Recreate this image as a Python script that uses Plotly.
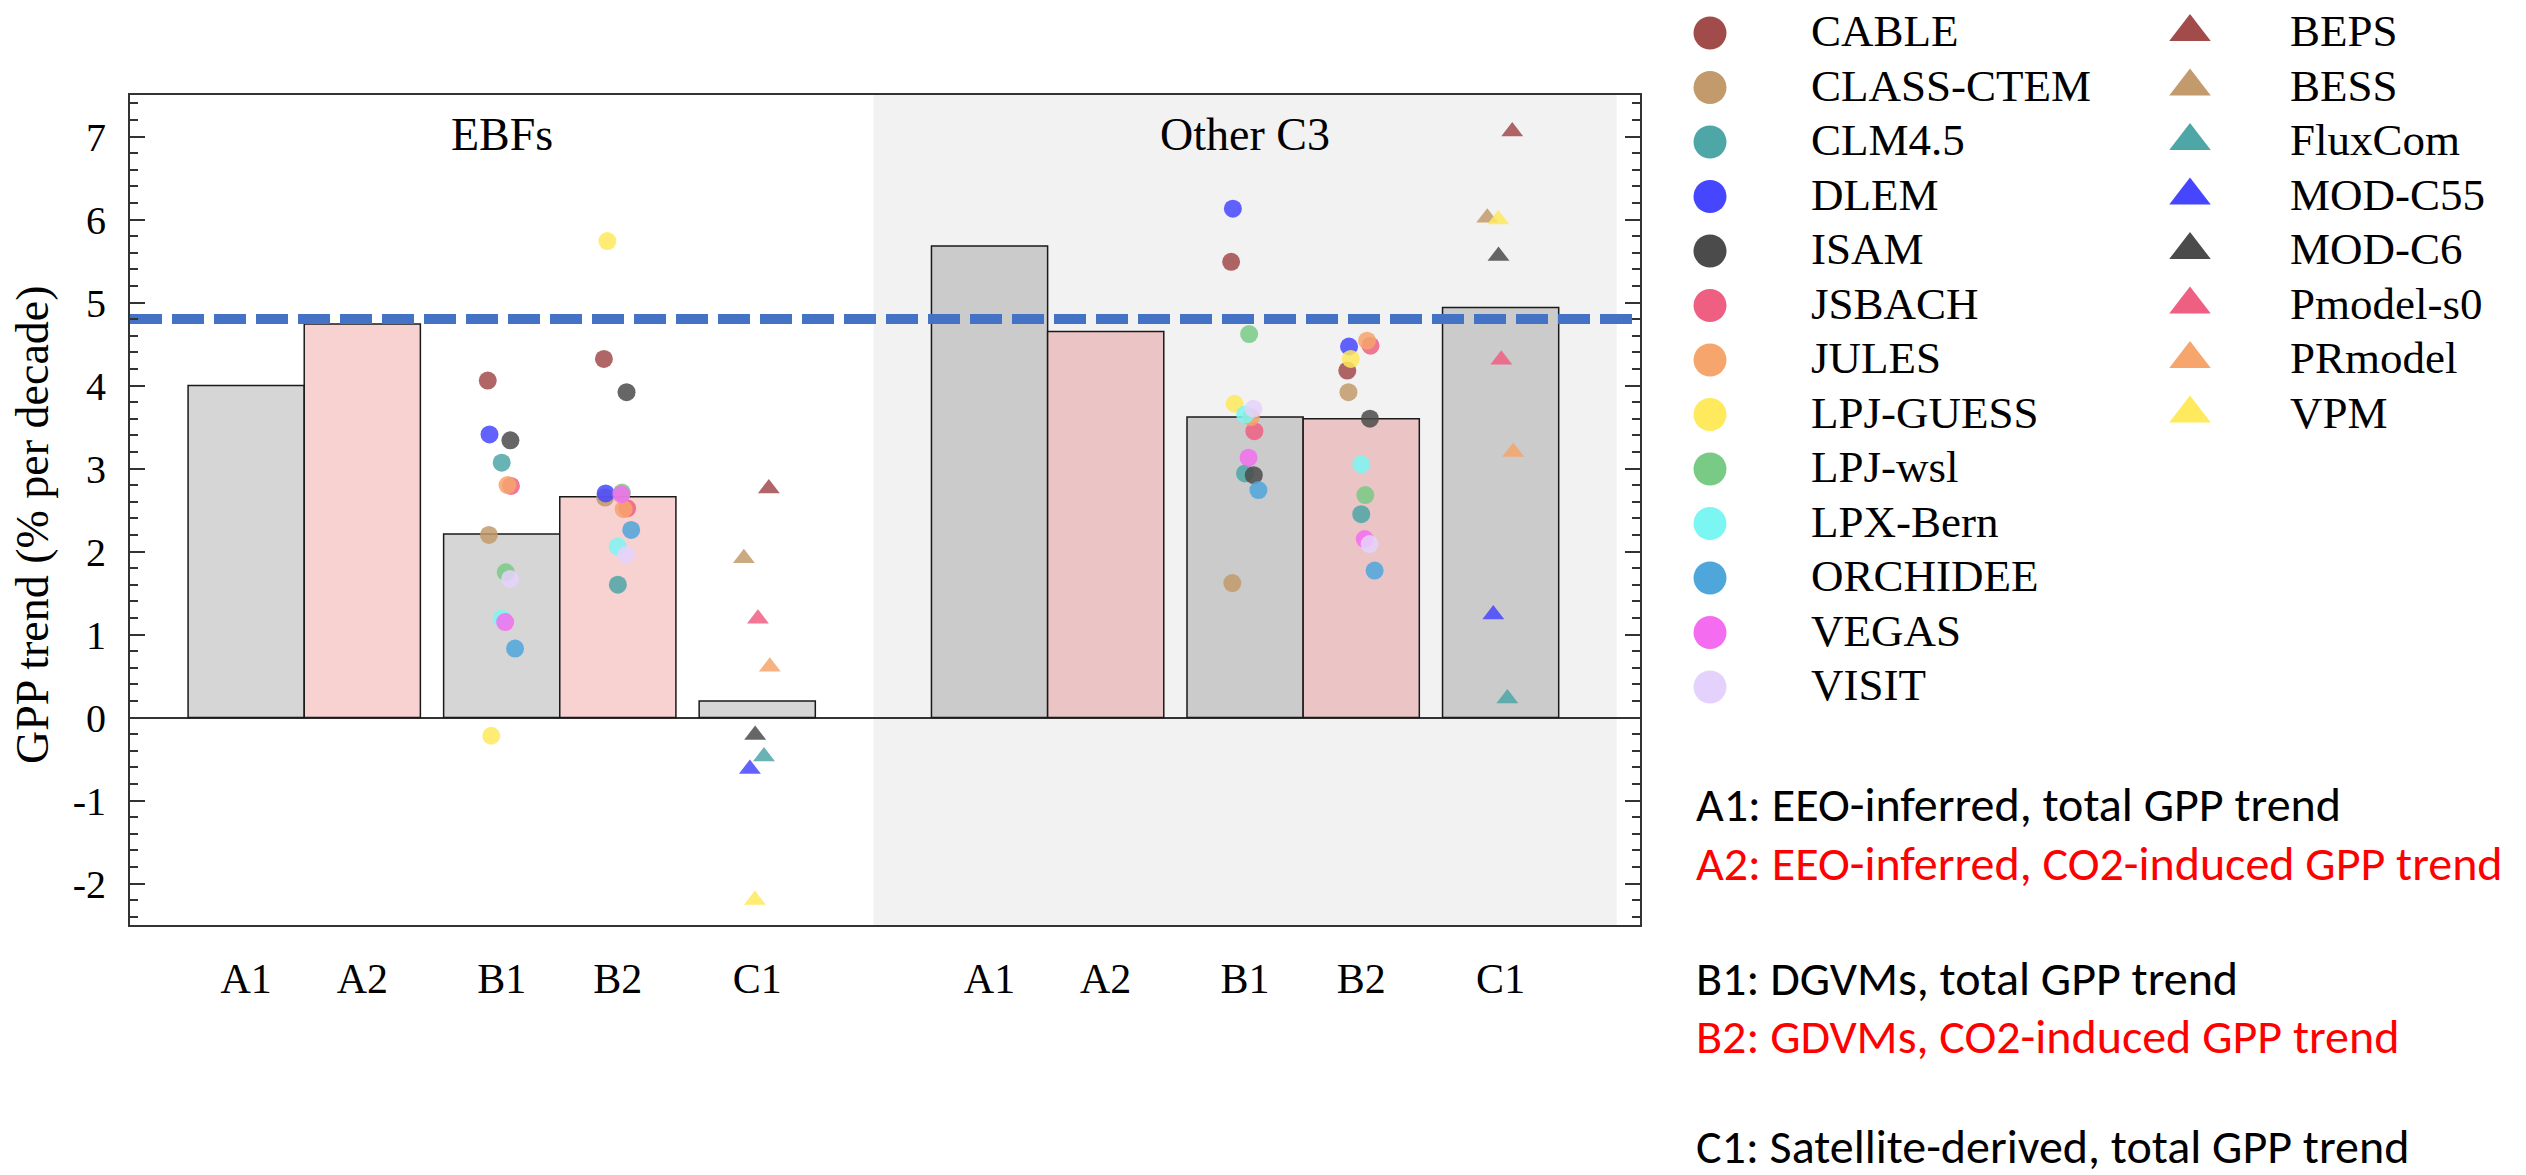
import plotly.graph_objects as go

W, H = 2526, 1175

# ------------------------------------------------------------------ data
categories = ["A1", "A2", "B1", "B2", "C1"]
biomes = ["EBFs", "Other C3"]
bar_ebf = [4.00, 4.74, 2.21, 2.66, 0.20]
bar_c3 = [5.68, 4.65, 3.62, 3.60, 4.94]
eeo_reference = 4.80

dgvm_models = ["CABLE", "CLASS-CTEM", "CLM4.5", "DLEM", "ISAM", "JSBACH", "JULES",
               "LPJ-GUESS", "LPJ-wsl", "LPX-Bern", "ORCHIDEE", "VEGAS", "VISIT"]
dgvm_b1_ebf = [4.06, 2.20, 3.07, 3.41, 3.34, 2.79, 2.80, -0.22, 1.75, 1.19, 0.83, 1.15, 1.67]
dgvm_b2_ebf = [4.32, 2.65, 1.60, 2.70, 3.92, 2.52, 2.51, 5.74, 2.71, 2.06, 2.26, 2.69, 1.96]
dgvm_b1_c3 = [5.49, 1.62, 2.94, 6.13, 2.92, 3.45, 3.62, 3.78, 4.62, 3.65, 2.74, 3.13, 3.72]
dgvm_b2_c3 = [4.18, 3.92, 2.45, 4.47, 3.60, 4.48, 4.54, 4.32, 2.68, 3.05, 1.77, 2.15, 2.09]

sat_models = ["BEPS", "BESS", "FluxCom", "MOD-C55", "MOD-C6", "Pmodel-s0", "PRmodel", "VPM"]
sat_c1_ebf = [2.76, 1.92, -0.47, -0.62, -0.21, 1.19, 0.61, -2.20]
sat_c1_c3 = [7.06, 6.02, 0.23, 1.24, 5.56, 4.31, 3.20, 6.00]

ytick_vals = [-2, -1, 0, 1, 2, 3, 4, 5, 6, 7]
ytick_text = ["-2", "-1", "0", "1", "2", "3", "4", "5", "6", "7"]

notes = [
    ("A1: EEO-inferred, total GPP trend", "black"),
    ("A2: EEO-inferred, CO2-induced GPP trend", "#FF0000"),
    ("B1: DGVMs, total GPP trend", "black"),
    ("B2: GDVMs, CO2-induced GPP trend", "#FF0000"),
    ("C1: Satellite-derived, total GPP trend", "black"),
]

# ------------------------------------------------------------------ layout / style
cat_pos = [1.0, 2.0, 3.2, 4.2, 5.4]
group_shift = 6.4
x_range = [0, 13.0]
y_range = [-2.5, 7.5]
shade = (6.4, 12.8)

dgvm_jitter = [-0.12, -0.11, 0.0, -0.105, 0.075, 0.08, 0.05, -0.09, 0.035, 0.0, 0.115, 0.03, 0.072]
sat_jitter = [0.10, -0.115, 0.058, -0.063, -0.018, 0.006, 0.108, -0.02]

palette = ["#A24B4B", "#C29A6B", "#4EA6A6", "#4646FF", "#4B4B4B", "#EE5F82", "#F6A56C",
           "#FFE95C", "#79CA84", "#7CF6F2", "#4EA6DA", "#F46DF0", "#E5D2FC"]
bar_colors_ebf = ["#D6D6D6", "#F8D1D1", "#D6D6D6", "#F8D1D1", "#D6D6D6"]
bar_colors_c3 = ["#CBCBCB", "#EBC4C5", "#CBCBCB", "#EBC4C5", "#CBCBCB"]

SERIF = "Liberation Serif, Times New Roman, serif"
SANS = "Carlito, Liberation Sans Narrow, Lato, sans-serif"

# plot area in pixels
PL, PR, PT, PB = 130, 1640, 95, 925

fig = go.Figure()

# bars
bar_x = cat_pos + [p + group_shift for p in cat_pos]
fig.add_trace(go.Bar(
    x=bar_x, y=bar_ebf + bar_c3, width=1.0,
    marker=dict(color=bar_colors_ebf + bar_colors_c3, line=dict(color="#1a1a1a", width=1.5)),
    showlegend=False, hoverinfo="skip"))

# dashed reference line
fig.add_trace(go.Scatter(
    x=x_range, y=[eeo_reference, eeo_reference], mode="lines",
    line=dict(color="#4472C4", width=10, dash="32px,10px"),
    showlegend=False, hoverinfo="skip"))

# DGVM points
for i, m in enumerate(dgvm_models):
    j = dgvm_jitter[i]
    xs = [cat_pos[2] + j, cat_pos[3] + j, cat_pos[2] + group_shift + j, cat_pos[3] + group_shift + j]
    ys = [dgvm_b1_ebf[i], dgvm_b2_ebf[i], dgvm_b1_c3[i], dgvm_b2_c3[i]]
    fig.add_trace(go.Scatter(
        x=xs, y=ys, mode="markers", name=m, showlegend=False,
        marker=dict(symbol="circle", size=18, color=palette[i], opacity=0.85, line=dict(width=0))))

# satellite points
for i, m in enumerate(sat_models):
    j = sat_jitter[i]
    xs = [cat_pos[4] + j, cat_pos[4] + group_shift + j]
    ys = [sat_c1_ebf[i], sat_c1_c3[i]]
    fig.add_trace(go.Scatter(
        x=xs, y=ys, mode="markers", name=m, showlegend=False,
        marker=dict(symbol="triangle-up", size=19, color=palette[i], opacity=0.85, line=dict(width=0))))

# custom legend (separate subplot in pixel coordinates)
LX0, LX1, LY1 = 1660, W, 720
row_h = 54.5
for i, m in enumerate(dgvm_models):
    fig.add_trace(go.Scatter(
        x=[1710], y=[33 + row_h * i], mode="markers", xaxis="x2", yaxis="y2",
        showlegend=False, hoverinfo="skip",
        marker=dict(symbol="circle", size=33, color=palette[i], line=dict(width=0))))
    fig.add_annotation(x=1809, y=31 + row_h * i, xref="x2", yref="y2", text=m,
                       showarrow=False, xanchor="left", yanchor="middle",
                       font=dict(family=SERIF, size=45, color="black"))
for i, m in enumerate(sat_models):
    fig.add_trace(go.Scatter(
        x=[2190], y=[32 + row_h * i], mode="markers", xaxis="x2", yaxis="y2",
        showlegend=False, hoverinfo="skip",
        marker=dict(symbol="triangle-up", size=36, color=palette[i], line=dict(width=0))))
    fig.add_annotation(x=2288, y=31 + row_h * i, xref="x2", yref="y2", text=m,
                       showarrow=False, xanchor="left", yanchor="middle",
                       font=dict(family=SERIF, size=45, color="black"))

# shaded "Other C3" region
fig.add_shape(type="rect", xref="x", yref="y", x0=shade[0], x1=shade[1],
              y0=y_range[0], y1=y_range[1], fillcolor="#F2F2F2", line=dict(width=0), layer="below")

# biome labels
for k, b in enumerate(biomes):
    fig.add_annotation(x=cat_pos[2] + k * group_shift, y=7.02, xref="x", yref="y", text=b,
                       showarrow=False, xanchor="center", yanchor="middle",
                       font=dict(family=SERIF, size=46, color="black"))

# y-axis title
fig.add_annotation(x=32 / W, y=1 - 525 / H, xref="paper", yref="paper",
                   text="GPP trend (% per decade)", textangle=-90, showarrow=False,
                   xanchor="center", yanchor="middle",
                   font=dict(family=SERIF, size=46, color="black"))

# explanatory notes
note_y = [804, 863, 978, 1036, 1146]
for (t, c), py in zip(notes, note_y):
    fig.add_annotation(x=1694 / W, y=1 - py / H, xref="paper", yref="paper", text=t,
                       showarrow=False, xanchor="left", yanchor="middle",
                       font=dict(family=SANS, size=48, color=c))

fig.update_layout(
    width=W, height=H,
    margin=dict(l=0, r=0, t=0, b=0),
    paper_bgcolor="white", plot_bgcolor="rgba(0,0,0,0)",
    showlegend=False,
    xaxis=dict(domain=[PL / W, PR / W], range=x_range, tickvals=bar_x,
               ticktext=categories + categories, ticks="", showgrid=False, zeroline=False,
               showline=True, linecolor="#333333", linewidth=2, mirror=True,
               tickfont=dict(family=SERIF, size=42, color="black"), ticklabelstandoff=16),
    yaxis=dict(domain=[1 - PB / H, 1 - PT / H], range=y_range, tickvals=ytick_vals,
               ticktext=ytick_text, ticks="inside", ticklen=15, tickwidth=2, tickcolor="#333333",
               minor=dict(dtick=0.2, ticks="inside", ticklen=8, tickwidth=2, tickcolor="#333333"),
               showgrid=False, zeroline=True, zerolinecolor="#333333", zerolinewidth=2,
               showline=True, linecolor="#333333", linewidth=2, mirror="allticks",
               tickfont=dict(family=SERIF, size=40, color="black"), ticklabelstandoff=14),
    xaxis2=dict(domain=[LX0 / W, 1], range=[LX0, LX1], visible=False, fixedrange=True),
    yaxis2=dict(domain=[1 - LY1 / H, 1], range=[LY1, 0], visible=False, fixedrange=True),
)

fig.write_html("out.html")
